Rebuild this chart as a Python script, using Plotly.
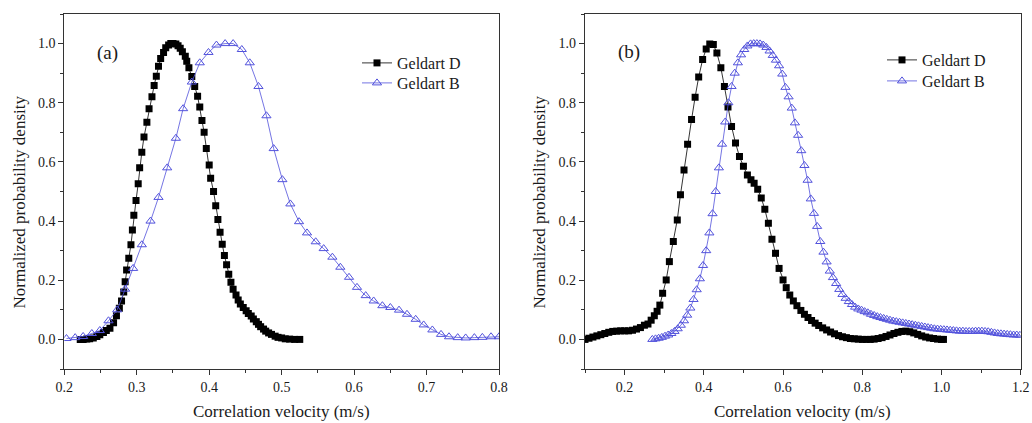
import plotly.graph_objects as go

# ---------------- Panel (a) data ----------------
a_D_x = [0.222, 0.226, 0.231, 0.235, 0.240, 0.245, 0.249, 0.254, 0.258, 0.263,
         0.268, 0.272, 0.276, 0.279, 0.282, 0.284, 0.286, 0.289, 0.292, 0.294,
         0.296, 0.299, 0.302, 0.304, 0.307, 0.310, 0.314, 0.317, 0.321, 0.324,
         0.327, 0.330, 0.333, 0.337, 0.340, 0.344, 0.347, 0.350, 0.354, 0.357,
         0.360, 0.363, 0.367, 0.369, 0.372, 0.376, 0.380, 0.384, 0.387, 0.390,
         0.393, 0.396, 0.400, 0.402, 0.406, 0.409, 0.412, 0.415, 0.418, 0.421,
         0.424, 0.427, 0.430, 0.433, 0.437, 0.440, 0.443, 0.447, 0.451, 0.454,
         0.458, 0.461, 0.465, 0.468, 0.471, 0.475, 0.478, 0.482, 0.486, 0.491,
         0.495, 0.500, 0.505, 0.511, 0.518, 0.525]
a_D_y = [0.000, 0.000, 0.001, 0.002, 0.005, 0.010, 0.016, 0.023, 0.030, 0.038,
         0.056, 0.080, 0.105, 0.130, 0.160, 0.195, 0.235, 0.274, 0.320, 0.370,
         0.420, 0.470, 0.526, 0.580, 0.633, 0.684, 0.734, 0.780, 0.820, 0.858,
         0.890, 0.923, 0.950, 0.970, 0.986, 0.995, 1.000, 1.000, 0.999, 0.993,
         0.984, 0.972, 0.957, 0.940, 0.918, 0.889, 0.855, 0.822, 0.786, 0.740,
         0.700, 0.645, 0.590, 0.545, 0.500, 0.452, 0.405, 0.362, 0.322, 0.284,
         0.252, 0.220, 0.193, 0.170, 0.150, 0.133, 0.120, 0.108, 0.097, 0.088,
         0.079, 0.069, 0.060, 0.051, 0.043, 0.035, 0.028, 0.022, 0.017, 0.011,
         0.007, 0.005, 0.002, 0.001, 0.000, 0.000]

a_B_x = [0.203, 0.215, 0.226, 0.238, 0.249, 0.261, 0.273, 0.284, 0.295, 0.307,
         0.319, 0.330, 0.342, 0.354, 0.364, 0.376, 0.387, 0.399, 0.410, 0.422,
         0.433, 0.445, 0.456, 0.468, 0.479, 0.489, 0.501, 0.512, 0.524, 0.535,
         0.547, 0.558, 0.570, 0.581, 0.593, 0.604, 0.616, 0.627, 0.639, 0.650,
         0.662, 0.673, 0.685, 0.696, 0.708, 0.720, 0.731, 0.743, 0.754, 0.766,
         0.777, 0.789, 0.800]
a_B_y = [0.003, 0.006, 0.010, 0.020, 0.030, 0.063, 0.100, 0.170, 0.240, 0.320,
         0.400, 0.480, 0.580, 0.680, 0.780, 0.870, 0.935, 0.970, 0.995, 1.000,
         1.000, 0.980, 0.935, 0.855, 0.756, 0.645, 0.540, 0.458, 0.398, 0.360,
         0.330, 0.307, 0.278, 0.244, 0.210, 0.176, 0.148, 0.130, 0.114, 0.108,
         0.099, 0.085, 0.068, 0.049, 0.032, 0.017, 0.009, 0.006, 0.005, 0.006,
         0.007, 0.009, 0.009]

# ---------------- Panel (b) data ----------------
b_D_x = [0.100, 0.110, 0.120, 0.130, 0.140, 0.150, 0.160, 0.170, 0.180, 0.190,
         0.200, 0.210, 0.220, 0.230, 0.240, 0.250, 0.259, 0.267, 0.275, 0.282,
         0.289, 0.296, 0.305, 0.313, 0.323, 0.333, 0.341, 0.350, 0.359, 0.369,
         0.378, 0.387, 0.397, 0.406, 0.415, 0.424, 0.433, 0.443, 0.452, 0.461,
         0.470, 0.480, 0.490, 0.500, 0.510, 0.519, 0.527, 0.536, 0.545, 0.554,
         0.563, 0.572, 0.581, 0.590, 0.600, 0.608, 0.617, 0.626, 0.635, 0.645,
         0.654, 0.663, 0.672, 0.681, 0.690, 0.700, 0.710, 0.720, 0.730, 0.740,
         0.750, 0.760, 0.770, 0.780, 0.790, 0.800, 0.810, 0.820, 0.830, 0.840,
         0.850, 0.860, 0.870, 0.880, 0.890, 0.900, 0.910, 0.920, 0.930, 0.940,
         0.950, 0.960, 0.970, 0.980, 0.990, 1.000, 1.005]
b_D_y = [0.000, 0.004, 0.008, 0.012, 0.016, 0.020, 0.024, 0.027, 0.028, 0.029,
         0.029, 0.029, 0.031, 0.035, 0.040, 0.048, 0.052, 0.065, 0.080, 0.095,
         0.116, 0.156, 0.201, 0.263, 0.331, 0.404, 0.489, 0.573, 0.660, 0.743,
         0.819, 0.887, 0.946, 0.982, 0.999, 0.997, 0.968, 0.918, 0.855, 0.786,
         0.720, 0.664, 0.618, 0.585, 0.556, 0.540, 0.528, 0.508, 0.478, 0.440,
         0.393, 0.339, 0.291, 0.240, 0.201, 0.175, 0.150, 0.130, 0.114, 0.098,
         0.085, 0.074, 0.064, 0.055, 0.047, 0.039, 0.032, 0.025, 0.019, 0.013,
         0.009, 0.006, 0.003, 0.002, 0.001, 0.000, 0.000, 0.000, 0.001, 0.003,
         0.006, 0.010, 0.015, 0.020, 0.024, 0.027, 0.028, 0.026, 0.022, 0.017,
         0.012, 0.008, 0.005, 0.003, 0.001, 0.000, 0.000]

b_B_x = [0.270, 0.278, 0.286, 0.294, 0.302, 0.310, 0.318, 0.326, 0.334, 0.342,
         0.350, 0.358, 0.366, 0.374, 0.382, 0.390, 0.398, 0.406, 0.414, 0.422,
         0.430, 0.438, 0.446, 0.454, 0.462, 0.470, 0.478, 0.486, 0.494, 0.502,
         0.510, 0.518, 0.526, 0.534, 0.542, 0.550, 0.558, 0.566, 0.574, 0.582,
         0.590, 0.598, 0.606, 0.614, 0.622, 0.630, 0.638, 0.646, 0.654, 0.662,
         0.670, 0.678, 0.686, 0.694, 0.702, 0.710, 0.718, 0.726, 0.734, 0.742,
         0.750, 0.758, 0.766, 0.774, 0.782, 0.790, 0.798, 0.806, 0.814, 0.822,
         0.830, 0.838, 0.846, 0.854, 0.862, 0.870, 0.878, 0.886, 0.894, 0.902,
         0.910, 0.918, 0.926, 0.934, 0.942, 0.950, 0.958, 0.966, 0.974, 0.982,
         0.990, 0.998, 1.006, 1.014, 1.022, 1.030, 1.038, 1.046, 1.054, 1.062,
         1.070, 1.078, 1.086, 1.094, 1.102, 1.110, 1.118, 1.126, 1.134, 1.142,
         1.150, 1.158, 1.166, 1.174, 1.182, 1.190, 1.198]
b_B_y = [0.000, 0.002, 0.004, 0.007, 0.011, 0.015, 0.020, 0.027, 0.036, 0.048,
         0.063, 0.082, 0.106, 0.135, 0.168, 0.205, 0.250, 0.300, 0.360, 0.425,
         0.500, 0.580, 0.660, 0.735, 0.800, 0.855, 0.900, 0.935, 0.962, 0.980,
         0.992, 0.999, 1.000, 1.000, 0.999, 0.995, 0.987, 0.975, 0.960, 0.944,
         0.925, 0.897, 0.852, 0.820, 0.782, 0.732, 0.690, 0.638, 0.588, 0.538,
         0.475, 0.426, 0.382, 0.331, 0.295, 0.262, 0.231, 0.209, 0.189, 0.169,
         0.152, 0.139, 0.128, 0.118, 0.109, 0.103, 0.099, 0.094, 0.090, 0.085,
         0.081, 0.077, 0.074, 0.071, 0.068, 0.065, 0.062, 0.060, 0.058, 0.056,
         0.054, 0.052, 0.050, 0.048, 0.046, 0.044, 0.042, 0.040, 0.038, 0.036,
         0.035, 0.034, 0.033, 0.032, 0.031, 0.030, 0.029, 0.028, 0.028, 0.027,
         0.027, 0.027, 0.028, 0.028, 0.028, 0.027, 0.026, 0.024, 0.022, 0.020,
         0.019, 0.018, 0.017, 0.016, 0.015, 0.015, 0.014]

names = ["Geldart D", "Geldart B"]
panel_labels = ["(a)", "(b)"]
x_title = "Correlation velocity (m/s)"
y_title = "Normalized probability density"

W, H = 1032, 423
BLUE = "#5252dc"
FONT = "Liberation Serif, Times New Roman, serif"
TXT = "#1a1a1a"


def px_x(p):
    return p / W


def px_y(p):
    return 1 - p / H


fig = go.Figure()


def add_pair(dx, dy, bx, by, xa, ya, leg_d, leg_b):
    fig.add_trace(go.Scatter(
        x=dx, y=dy, name=names[0], mode="lines+markers",
        line=dict(color="#000000", width=0.8),
        marker=dict(symbol="square", size=7, color="#000000", line=dict(width=0)),
        xaxis=xa, yaxis=ya, legend=leg_d))
    fig.add_trace(go.Scatter(
        x=bx, y=by, name=names[1], mode="lines+markers",
        line=dict(color=BLUE, width=0.8),
        marker=dict(symbol="triangle-up-open", size=8, color=BLUE,
                    line=dict(width=1, color=BLUE)),
        xaxis=xa, yaxis=ya, legend=leg_b))


add_pair(a_D_x, a_D_y, a_B_x, a_B_y, "x", "y", "legend", "legend2")
add_pair(b_D_x, b_D_y, b_B_x, b_B_y, "x2", "y2", "legend3", "legend4")

axis_common = dict(
    showline=True, linecolor="#333333", linewidth=1.2, mirror=True,
    showgrid=False, zeroline=False, ticks="outside", ticklen=5, tickwidth=1,
    tickcolor="#333333", automargin=False,
    tickfont=dict(family=FONT, size=14, color=TXT),
)

yaxis_cfg = dict(axis_common, range=[-0.1, 1.1],
                 tickvals=[0.0, 0.2, 0.4, 0.6, 0.8, 1.0], tickformat=".1f",
                 minor=dict(tickvals=[-0.1, 0.1, 0.3, 0.5, 0.7, 0.9, 1.1],
                            ticks="outside", ticklen=3, tickcolor="#333333"),
                 domain=[px_y(369), px_y(14)])


def leg(xp, yp):
    return dict(x=px_x(xp), y=px_y(yp), xanchor="left", yanchor="middle",
                bgcolor="rgba(0,0,0,0)", borderwidth=0,
                font=dict(family=FONT, size=16, color=TXT), itemwidth=30)


fig.update_layout(
    width=W, height=H,
    margin=dict(l=0, r=0, t=0, b=0, pad=0, autoexpand=False),
    paper_bgcolor="white", plot_bgcolor="white",
    font=dict(family=FONT, color=TXT),
    xaxis=dict(axis_common, range=[0.2, 0.8], domain=[px_x(64.3), px_x(499)],
               tickvals=[0.2, 0.3, 0.4, 0.5, 0.6, 0.7, 0.8], tickformat=".1f",
               minor=dict(tickvals=[0.25, 0.35, 0.45, 0.55, 0.65, 0.75],
                          ticks="outside", ticklen=3, tickcolor="#333333"),
               anchor="y"),
    yaxis=dict(yaxis_cfg, anchor="x"),
    xaxis2=dict(axis_common, range=[0.1, 1.2], domain=[px_x(585), px_x(1020.7)],
                tickvals=[0.2, 0.4, 0.6, 0.8, 1.0, 1.2], tickformat=".1f",
                minor=dict(tickvals=[0.1, 0.3, 0.5, 0.7, 0.9, 1.1],
                           ticks="outside", ticklen=3, tickcolor="#333333"),
                anchor="y2"),
    yaxis2=dict(yaxis_cfg, anchor="x2"),
    legend=leg(357, 63),
    legend2=leg(357, 83),
    legend3=leg(882, 60),
    legend4=leg(882, 81),
    showlegend=True,
)

fig.add_annotation(text=panel_labels[0], x=px_x(107.5), y=px_y(53))
fig.add_annotation(text=panel_labels[1], x=px_x(629), y=px_y(52))
for cx in (281.5, 802.5):
    fig.add_annotation(text=x_title, x=px_x(cx), y=px_y(411))
for cx in (19, 539):
    fig.add_annotation(text=y_title, x=px_x(cx), y=px_y(202.5), textangle=-90)
fig.update_annotations(xref="paper", yref="paper", xanchor="center", yanchor="middle",
                       showarrow=False)
fig.layout.annotations[0].font = dict(family=FONT, size=19, color=TXT)
fig.layout.annotations[1].font = dict(family=FONT, size=19, color=TXT)
for i in range(2, 6):
    fig.layout.annotations[i].font = dict(family=FONT, size=17, color=TXT)

fig.write_html("out.html", config={"displayModeBar": False},
               post_script="document.body.style.margin='0';document.body.style.overflow='hidden';")
